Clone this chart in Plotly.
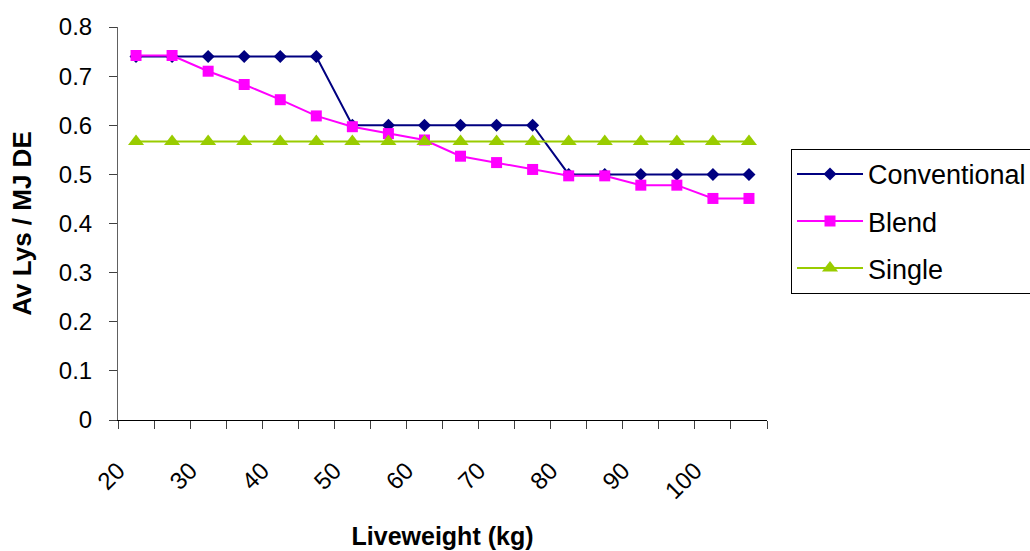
import plotly.graph_objects as go

# Liveweight bands (kg): start of each 5 kg band; points plotted at band centre
band_start = [20, 25, 30, 35, 40, 45, 50, 55, 60, 65, 70, 75, 80, 85, 90, 95, 100, 105]
band_width = 5
tick_labels = [20, 30, 40, 50, 60, 70, 80, 90, 100]

conventional = [0.74, 0.74, 0.74, 0.74, 0.74, 0.74, 0.60, 0.60, 0.60, 0.60, 0.60, 0.60,
                0.50, 0.50, 0.50, 0.50, 0.50, 0.50]
blend = [0.742, 0.742, 0.710, 0.683, 0.652, 0.619, 0.597, 0.583, 0.570, 0.537, 0.524, 0.510,
         0.497, 0.497, 0.478, 0.478, 0.451, 0.451]
single = [0.567] * 18

x_mid = [b + band_width / 2 for b in band_start]

FONT = "Liberation Sans, Arial, sans-serif"

fig = go.Figure()
fig.add_trace(go.Scatter(x=x_mid, y=conventional, name="Conventional", mode="lines+markers",
                         legendgroup="a",
                         line=dict(color="#000080", width=2),
                         marker=dict(symbol="diamond", size=10, color="#000080")))
fig.add_trace(go.Scatter(x=x_mid, y=blend, name="Blend", mode="lines+markers",
                         legendgroup="b",
                         line=dict(color="#FF00FF", width=2),
                         marker=dict(symbol="square", size=11, color="#FF00FF")))
fig.add_trace(go.Scatter(x=x_mid, y=single, name="Single", mode="lines+markers",
                         legendgroup="c",
                         line=dict(color="#99CC00", width=2),
                         marker=dict(symbol="triangle-up", size=14, color="#99CC00")))

fig.update_layout(
    width=1030, height=551,
    margin=dict(l=118, r=263, t=27, b=131, autoexpand=False),
    paper_bgcolor="white", plot_bgcolor="white",
    font=dict(family=FONT, color="black", size=24),
    showlegend=True,
    legend=dict(x=1.037, y=0.69, xanchor="left", yanchor="top",
                bordercolor="black", borderwidth=1, bgcolor="white",
                font=dict(size=27, family=FONT), tracegroupgap=9,
                itemwidth=66),
    xaxis=dict(range=[20, 110], tickmode="array", tickvals=tick_labels,
               ticktext=[str(t) for t in tick_labels], tickangle=-45,
               showline=True, linecolor="black", linewidth=1,
               ticks="outside", ticklen=8, tickcolor="#404040",
               minor=dict(dtick=5, tick0=20, ticks="outside", ticklen=8, tickcolor="#404040",
                          showgrid=False),
               showgrid=False, zeroline=False,
               tickfont=dict(size=24, family=FONT), ticklabelstandoff=18,
               title=dict(text="<b>Liveweight (kg)</b>", font=dict(size=25, family=FONT),
                          standoff=24)),
    yaxis=dict(range=[0, 0.8], dtick=0.1, tickformat="~g",
               showline=True, linecolor="#606060", linewidth=1,
               ticks="outside", ticklen=8, tickcolor="#404040",
               showgrid=False, zeroline=False,
               tickfont=dict(size=24, family=FONT), ticklabelstandoff=12,
               title=dict(text="<b>Av Lys / MJ DE</b>", font=dict(size=26, family=FONT),
                          standoff=19)),
)

fig.write_html("out.html")
